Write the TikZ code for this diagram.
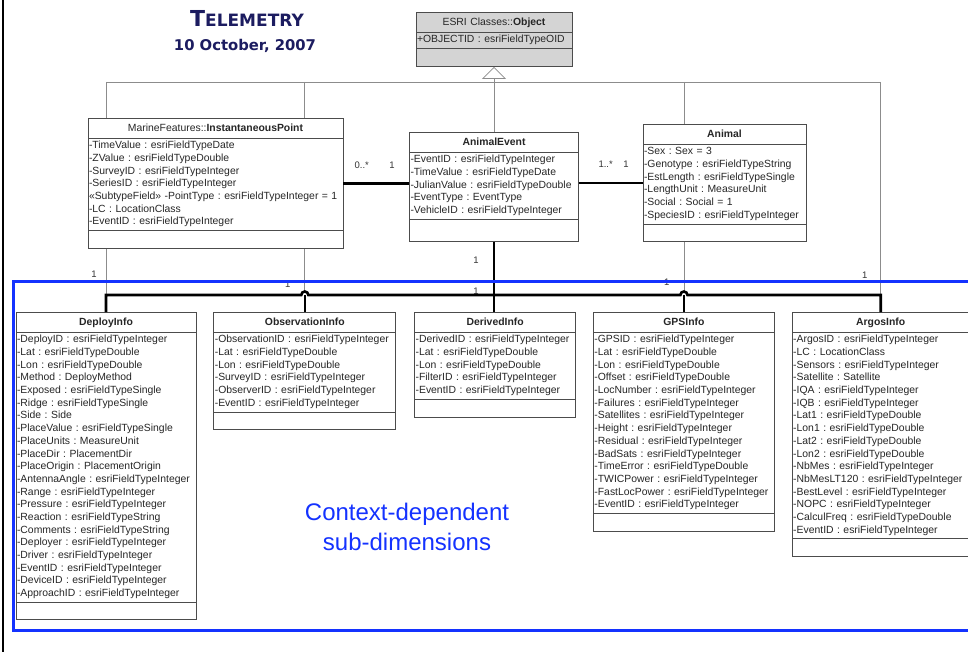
\documentclass[tikz,border=0pt]{standalone}
\usepackage{fontspec}
\setmainfont{Liberation Sans}
\newfontfamily\titlefont{DejaVu Sans}
\usepackage{tikz}
\usetikzlibrary{arrows.meta,positioning,shapes.multipart}
\setlength{\parindent}{0pt}
\frenchspacing
\definecolor{navy}{RGB}{28,28,96}
\definecolor{ctxblue}{RGB}{20,50,255}
\tikzstyle{umlclass}=[rectangle split,rectangle split parts=3,draw=black!70,line width=0.8pt,
                      fill=white,text=black!85,font=\fontsize{10.4}{12.67}\selectfont,
                      inner xsep=1pt,inner ysep=1.5pt,align=left,anchor=north]
\tikzstyle{mult}=[font=\fontsize{9.5}{11}\selectfont,text=black!80,inner sep=0pt]
\newcommand{\tstrut}{\rule[-4.5pt]{0pt}{16pt}}
\newcommand{\ctitle}[1]{\hfill\tstrut#1\hfill\null}
\newcommand{\ops}[1][14pt]{\rule{0pt}{#1}}

\begin{document}
\begin{tikzpicture}[x=1pt,y=-1pt,
                    gen/.style={draw=black!45,line width=0.8pt},
                    bus/.style={draw=black,line width=2.6pt}]
  \useasboundingbox (0,0) rectangle (968,652);
  \tikzstyle{titletext}=[text=navy,font=\titlefont\bfseries,inner sep=0pt]

  \node[titletext] (title) at (247,18) {{\fontsize{22}{25}\selectfont T}{\fontsize{17}{20}\selectfont ELEMETRY}};
  \node[titletext] (date) at (245,46) {\fontsize{14.8}{17}\selectfont 10 October, 2007};

  \node[umlclass,fill=black!17,text width=154pt] (ESRI) at (494,12)
    {\ctitle{ESRI Classes::\textbf{Object}}
     \nodepart{two}\strut+OBJECTID : esriFieldTypeOID\strut
     \nodepart{three}\ops};

  \node[umlclass,text width=253pt] (IP) at (215.5,118)
    {\ctitle{MarineFeatures::\textbf{InstantaneousPoint}}
     \nodepart{two}\strut-TimeValue : esriFieldTypeDate\\
     -ZValue : esriFieldTypeDouble\\
     -SurveyID : esriFieldTypeInteger\\
     -SeriesID : esriFieldTypeInteger\\
     «SubtypeField» -PointType : esriFieldTypeInteger = 1\\
     -LC : LocationClass\\
     -EventID : esriFieldTypeInteger\strut
     \nodepart{three}\ops};

  \node[umlclass,text width=167pt] (AE) at (494,132)
    {\ctitle{\textbf{AnimalEvent}}
     \nodepart{two}\strut-EventID : esriFieldTypeInteger\\
     -TimeValue : esriFieldTypeDate\\
     -JulianValue : esriFieldTypeDouble\\
     -EventType : EventType\\
     -VehicleID : esriFieldTypeInteger\strut
     \nodepart{three}\ops[18pt]};

  \node[umlclass,text width=161pt] (AN) at (724.5,124)
    {\ctitle{\textbf{Animal}}
     \nodepart{two}\strut-Sex : Sex = 3\\
     -Genotype : esriFieldTypeString\\
     -EstLength : esriFieldTypeSingle\\
     -LengthUnit : MeasureUnit\\
     -Social : Social = 1\\
     -SpeciesID : esriFieldTypeInteger\strut
     \nodepart{three}\ops};

  \node[umlclass,text width=178pt] (DI) at (106,312)
    {\ctitle{\textbf{DeployInfo}}
     \nodepart{two}\strut-DeployID : esriFieldTypeInteger\\
     -Lat : esriFieldTypeDouble\\
     -Lon : esriFieldTypeDouble\\
     -Method : DeployMethod\\
     -Exposed : esriFieldTypeSingle\\
     -Ridge : esriFieldTypeSingle\\
     -Side : Side\\
     -PlaceValue : esriFieldTypeSingle\\
     -PlaceUnits : MeasureUnit\\
     -PlaceDir : PlacementDir\\
     -PlaceOrigin : PlacementOrigin\\
     -AntennaAngle : esriFieldTypeInteger\\
     -Range : esriFieldTypeInteger\\
     -Pressure : esriFieldTypeInteger\\
     -Reaction : esriFieldTypeString\\
     -Comments : esriFieldTypeString\\
     -Deployer : esriFieldTypeInteger\\
     -Driver : esriFieldTypeInteger\\
     -EventID : esriFieldTypeInteger\\
     -DeviceID : esriFieldTypeInteger\\
     -ApproachID : esriFieldTypeInteger\strut
     \nodepart{three}\ops};

  \node[umlclass,text width=180pt,right=17pt of DI.north east,anchor=north west] (OI)
    {\ctitle{\textbf{ObservationInfo}}
     \nodepart{two}\strut-ObservationID : esriFieldTypeInteger\\
     -Lat : esriFieldTypeDouble\\
     -Lon : esriFieldTypeDouble\\
     -SurveyID : esriFieldTypeInteger\\
     -ObserverID : esriFieldTypeInteger\\
     -EventID : esriFieldTypeInteger\strut
     \nodepart{three}\ops};

  \node[umlclass,text width=159pt,right=18pt of OI.north east,anchor=north west] (DV)
    {\ctitle{\textbf{DerivedInfo}}
     \nodepart{two}\strut-DerivedID : esriFieldTypeInteger\\
     -Lat : esriFieldTypeDouble\\
     -Lon : esriFieldTypeDouble\\
     -FilterID : esriFieldTypeInteger\\
     -EventID : esriFieldTypeInteger\strut
     \nodepart{three}\ops};

  \node[umlclass,text width=179pt,right=17pt of DV.north east,anchor=north west] (GPS)
    {\ctitle{\textbf{GPSInfo}}
     \nodepart{two}\strut-GPSID : esriFieldTypeInteger\\
     -Lat : esriFieldTypeDouble\\
     -Lon : esriFieldTypeDouble\\
     -Offset : esriFieldTypeDouble\\
     -LocNumber : esriFieldTypeInteger\\
     -Failures : esriFieldTypeInteger\\
     -Satellites : esriFieldTypeInteger\\
     -Height : esriFieldTypeInteger\\
     -Residual : esriFieldTypeInteger\\
     -BadSats : esriFieldTypeInteger\\
     -TimeError : esriFieldTypeDouble\\
     -TWICPower : esriFieldTypeInteger\\
     -FastLocPower : esriFieldTypeInteger\\
     -EventID : esriFieldTypeInteger\strut
     \nodepart{three}\ops};

  \node[umlclass,text width=175pt,right=17pt of GPS.north east,anchor=north west] (AR)
    {\ctitle{\textbf{ArgosInfo}}
     \nodepart{two}\strut-ArgosID : esriFieldTypeInteger\\
     -LC : LocationClass\\
     -Sensors : esriFieldTypeInteger\\
     -Satellite : Satellite\\
     -IQA : esriFieldTypeInteger\\
     -IQB : esriFieldTypeInteger\\
     -Lat1 : esriFieldTypeDouble\\
     -Lon1 : esriFieldTypeDouble\\
     -Lat2 : esriFieldTypeDouble\\
     -Lon2 : esriFieldTypeDouble\\
     -NbMes : esriFieldTypeInteger\\
     -NbMesLT120 : esriFieldTypeInteger\\
     -BestLevel : esriFieldTypeInteger\\
     -NOPC : esriFieldTypeInteger\\
     -CalculFreq : esriFieldTypeDouble\\
     -EventID : esriFieldTypeInteger\strut
     \nodepart{three}\ops};

  \coordinate (gy) at (0,82);
  \coordinate (busy) at (0,295);
  \coordinate (g1) at (DI.north |- gy);
  \coordinate (g5) at (AR.north |- gy);
  \coordinate (h1) at (OI.north |- busy);
  \coordinate (h2) at (GPS.north |- busy);

  \draw[gen] (g1) -- (g5);
  \draw[gen] (g1) -- (g1 |- IP.north);
  \draw[gen] (OI.north |- gy) -- (OI.north |- IP.north);
  \draw[gen] (GPS.north |- gy) -- (GPS.north |- AN.north);
  \draw[gen,-{Triangle[open,length=12pt,width=24pt]}] (AE.north) -- (ESRI.south);

  \draw[gen] (IP.south -| DI.north) -- node[mult,pos=0.55,left=9pt] {1} (DI.north |- busy);
  \draw[gen] (IP.south -| OI.north) -- node[mult,pos=0.84,left=14pt] {1} ([yshift=3.5pt]h1);
  \draw[gen] (AN.south -| GPS.north) -- node[mult,pos=0.82,left=14pt] {1} ([yshift=3.5pt]h2);
  \draw[gen] (g5) -- node[mult,pos=0.906,left=13pt] {1} (AR.north |- busy);

  \draw[bus] (IP.east) -- node[mult,pos=0.28,above=14pt] {0..*}
                          node[mult,pos=0.74,above=14pt] {1} (IP.east -| AE.west);
  \draw[bus] (AN.west -| AE.east) -- node[mult,pos=0.42,above=14pt] {1..*}
                                     node[mult,pos=0.74,above=14pt] {1} (AN.west);
  \draw[bus] (AE.south) -- node[mult,pos=0.27,left=14pt] {1}
                           node[mult,pos=0.70,left=14pt] {1} (AE.south |- DV.north);

  \draw[bus] (DI.north) |- ([xshift=-3.5pt]h1) arc[start angle=180,end angle=0,radius=3.5pt]
             -- ([xshift=-3.5pt]h2) arc[start angle=180,end angle=0,radius=3.5pt] -| (AR.north);
  \draw[bus] (h1) -- (OI.north);
  \draw[bus] (h2) -- (GPS.north);

  \draw[line width=1.2pt] (3,0) -- (3,652);
  \draw[ctxblue,line width=3pt] (13,281) rectangle (969,630);
  \node[text=ctxblue,align=center,font=\fontsize{24}{30}\selectfont] (ctx) at (407,527)
    {Context-dependent\\sub-dimensions};
\end{tikzpicture}
\end{document}
